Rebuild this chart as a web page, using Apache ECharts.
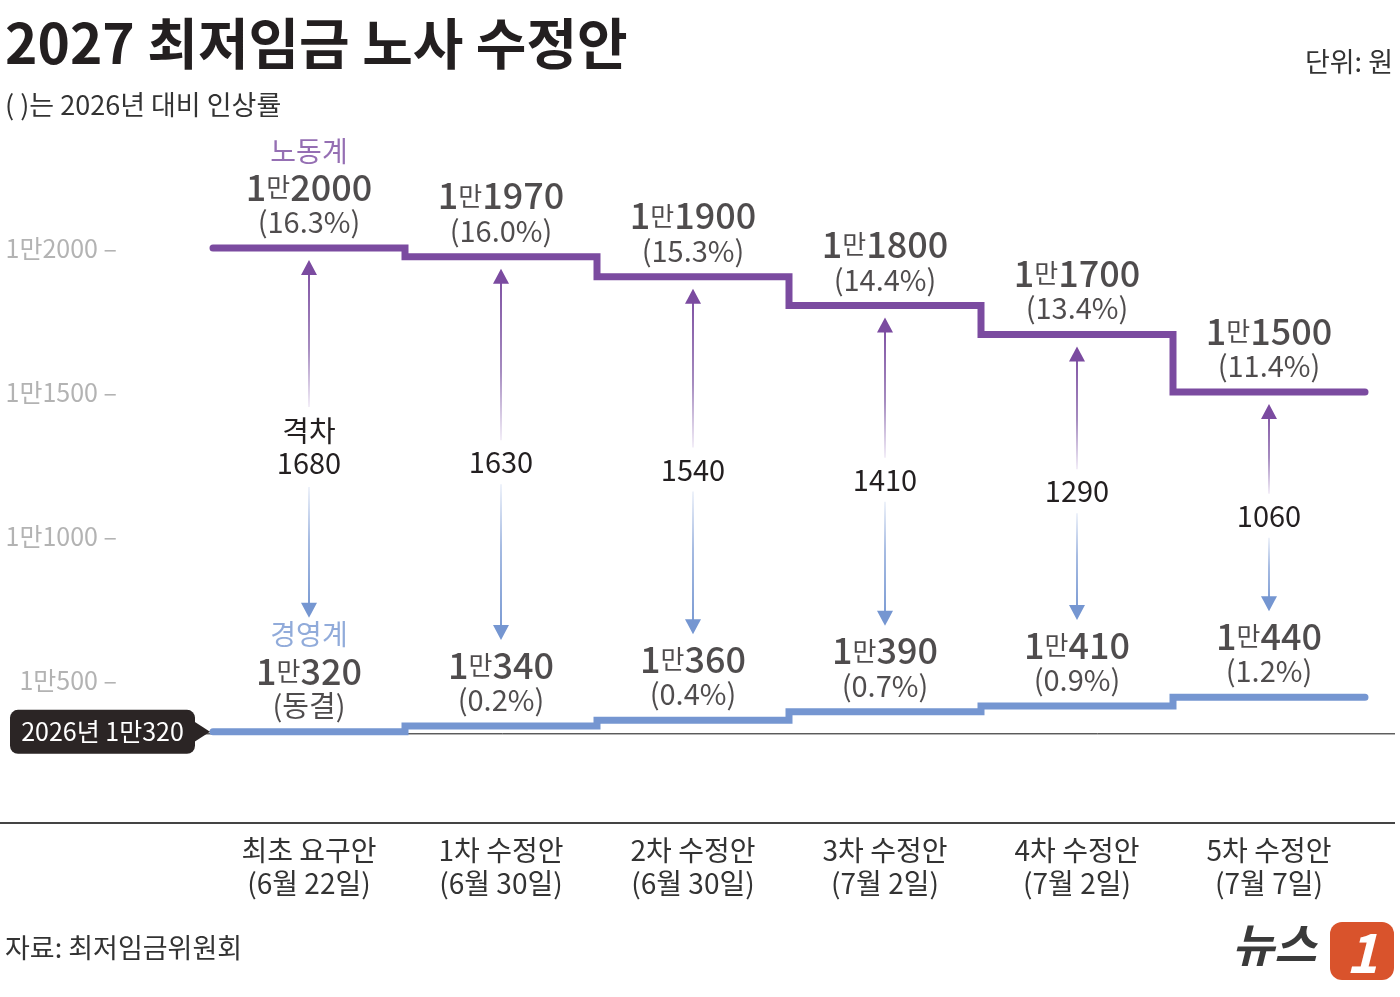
<!DOCTYPE html>
<html>
<head>
<meta charset="utf-8">
<script src="https://cdn.jsdelivr.net/npm/echarts@6/dist/echarts.min.js"></script>
<style>
    html, body { margin: 0; padding: 0; background: #fff; }
    #chart { width: 1400px; height: 997px; }
</style>
</head>
<body>
<div id="chart"></div>
<script>
// 2027 최저임금 노사 수정안 (단위: 원)
let categories = ['최초 요구안\n(6월 22일)', '1차 수정안\n(6월 30일)', '2차 수정안\n(6월 30일)',
    '3차 수정안\n(7월 2일)', '4차 수정안\n(7월 2일)', '5차 수정안\n(7월 7일)'];
let labor = [12000, 11970, 11900, 11800, 11700, 11500];
let laborRate = ['16.3%', '16.0%', '15.3%', '14.4%', '13.4%', '11.4%'];
let mgmt = [10320, 10340, 10360, 10390, 10410, 10440];
let mgmtRate = ['동결', '0.2%', '0.4%', '0.7%', '0.9%', '1.2%'];
let gaps = [1680, 1630, 1540, 1410, 1290, 1060];
let baseYear = 2026;
let baseWage = 10320;
let yTicks = [10500, 11000, 11500, 12000];

const PURPLE = '#7b4ba0';
const BLUE = '#7596d1';
const DARK = '#231f20';
const KR_FONT = "'Noto Sans CJK KR', sans-serif";

let man = function (v) {
    return '1만' + (v - 10000);
};

let stepData = function (arr) {
    let d = arr.map(function (v, i) { return [i, v]; });
    d.push([arr.length, arr[arr.length - 1]]);
    return d;
};

let valueRich = {
    t: { fontFamily: KR_FONT, fontSize: 28, lineHeight: 36, color: PURPLE },
    tb: { fontFamily: KR_FONT, fontSize: 28, lineHeight: 36, color: BLUE },
    n: { fontFamily: KR_FONT, fontSize: 36, fontWeight: 500, lineHeight: 36, color: DARK },
    m: { fontFamily: KR_FONT, fontSize: 26, lineHeight: 36, color: DARK },
    p: { fontFamily: KR_FONT, fontSize: 29, lineHeight: 34, color: DARK }
};

let valueLabel = function (v, rate, head, headStyle) {
    let s = '';
    if (head) s += '{' + headStyle + '|' + head + '}\n';
    s += '{n|1}{m|만}{n|' + (v - 10000) + '}\n';
    s += '{p|(' + rate + ')}';
    return s;
};

let chart = echarts.init(document.getElementById('chart'));
let option = {
    backgroundColor: '#fff',
    animation: false,
    grid: { left: 213, right: 35, top: 104, bottom: 173 },
    xAxis: {
        type: 'value', min: 0, max: 6, interval: 0.5,
        axisLine: { show: false }, axisTick: { show: false }, splitLine: { show: false },
        axisLabel: {
            margin: 10,
            fontFamily: KR_FONT, fontSize: 28, lineHeight: 33, color: '#333',
            formatter: function (v) {
                let i = Math.floor(v);
                return (v - i === 0.5 && categories[i]) ? categories[i] : '';
            }
        }
    },
    yAxis: {
        type: 'value', min: 10000, max: 12500, interval: 500,
        axisLine: { show: false }, axisTick: { show: false }, splitLine: { show: false },
        axisLabel: {
            margin: 96,
            fontFamily: KR_FONT, fontSize: 25, color: '#b3b3b3',
            formatter: function (v) {
                return yTicks.indexOf(v) >= 0 ? man(v) + ' –' : '';
            }
        }
    },
    series: [
        {
            name: '노동계', type: 'line', step: 'end', data: stepData(labor),
            symbol: 'none', z: 3,
            lineStyle: { color: PURPLE, width: 7, cap: 'round', join: 'miter' }
        },
        {
            name: '경영계', type: 'line', step: 'end', data: stepData(mgmt),
            symbol: 'none', z: 3,
            lineStyle: { color: BLUE, width: 7, cap: 'round', join: 'miter' }
        },
        {
            name: '노동계 라벨', type: 'scatter', symbolSize: 2, z: 5,
            itemStyle: { color: 'rgba(0,0,0,0)' },
            data: labor.map(function (v, i) { return [i + 0.5, v]; }),
            label: {
                show: true, position: 'top', distance: 8, align: 'center',
                formatter: function (p) {
                    let i = p.dataIndex;
                    return valueLabel(labor[i], laborRate[i], i === 0 ? '노동계' : '', 't');
                },
                rich: valueRich
            }
        },
        {
            name: '경영계 라벨', type: 'scatter', symbolSize: 2, z: 5,
            itemStyle: { color: 'rgba(0,0,0,0)' },
            data: mgmt.map(function (v, i) { return [i + 0.5, v]; }),
            label: {
                show: true, position: 'top', distance: 8, align: 'center',
                formatter: function (p) {
                    let i = p.dataIndex;
                    return valueLabel(mgmt[i], mgmtRate[i], i === 0 ? '경영계' : '', 'tb');
                },
                rich: valueRich
            }
        },
        {
            name: '격차', type: 'custom', z: 4,
            data: gaps.map(function (g, i) { return [i + 0.5, labor[i], mgmt[i], g]; }),
            renderItem: function (params, api) {
                let i = params.dataIndex;
                let top = api.coord([api.value(0), api.value(1)]);
                let bot = api.coord([api.value(0), api.value(2)]);
                let x = top[0];
                let y1 = top[1] + 12;
                let y2 = bot[1] - (i === 0 ? 114 : 86);
                let ym = (y1 + y2) / 2 + 8;
                let half = i === 0 ? 40 : 22;
                let txt = (i === 0 ? '격차\n' : '') + api.value(3);
                return {
                    type: 'group',
                    children: [
                        {
                            type: 'line',
                            shape: { x1: x, y1: y1 + 12, x2: x, y2: ym - half },
                            style: {
                                lineWidth: 2,
                                stroke: new echarts.graphic.LinearGradient(x, y1, x, ym - half, [
                                    { offset: 0, color: PURPLE }, { offset: 0.6, color: '#a68cc0' },
                                    { offset: 1, color: '#f3eef8' }], true)
                            }
                        },
                        {
                            type: 'line',
                            shape: { x1: x, y1: ym + half, x2: x, y2: y2 - 12 },
                            style: {
                                lineWidth: 2,
                                stroke: new echarts.graphic.LinearGradient(x, ym + half, x, y2, [
                                    { offset: 0, color: '#eef2fa' }, { offset: 0.4, color: '#a6bbe2' },
                                    { offset: 1, color: BLUE }], true)
                            }
                        },
                        {
                            type: 'polygon',
                            shape: { points: [[x, y1], [x - 8, y1 + 15], [x + 8, y1 + 15]] },
                            style: { fill: PURPLE }
                        },
                        {
                            type: 'polygon',
                            shape: { points: [[x, y2], [x - 8, y2 - 15], [x + 8, y2 - 15]] },
                            style: { fill: BLUE }
                        },
                        {
                            type: 'text',
                            style: {
                                text: txt, x: x, y: ym, align: 'center', verticalAlign: 'middle',
                                fontFamily: KR_FONT, fontSize: 29, lineHeight: 32, fill: DARK
                            }
                        }
                    ]
                };
            }
        }
    ]
};
chart.setOption(option, true);

// decorations placed from the axes
let basePt = chart.convertToPixel({ gridIndex: 0 }, [0, baseWage]);
let floorPt = chart.convertToPixel({ gridIndex: 0 }, [0, 10000]);
chart.setOption({
    graphic: [
        {
            type: 'text', left: 5, top: 16,
            style: { text: '2027 최저임금 노사 수정안', fontFamily: KR_FONT, fontWeight: 'bold', fontSize: 55, fill: DARK }
        },
        {
            type: 'text', left: 5, top: 91,
            style: { text: '( )는 2026년 대비 인상률', fontFamily: KR_FONT, fontSize: 27, fill: '#333' }
        },
        {
            type: 'text', right: 7, top: 48,
            style: { text: '단위: 원', fontFamily: KR_FONT, fontSize: 27, fill: '#333' }
        },
        {
            type: 'text', left: 5, top: 934,
            style: { text: '자료: 최저임금위원회', fontFamily: KR_FONT, fontSize: 27, fill: '#333' }
        },
        {
            type: 'line', z: 1,
            shape: { x1: basePt[0] - 8, y1: basePt[1] + 2, x2: 1395, y2: basePt[1] + 2 },
            style: { stroke: '#111', lineWidth: 1 }
        },
        {
            type: 'line', z: 1,
            shape: { x1: 0, y1: floorPt[1] - 1, x2: 1395, y2: floorPt[1] - 1 },
            style: { stroke: '#444', lineWidth: 2 }
        },
        {
            type: 'rect', z: 5,
            shape: { x: 10, y: basePt[1] - 22, width: basePt[0] - 28, height: 44, r: 8 },
            style: { fill: '#2b2525' }
        },
        {
            type: 'polygon', z: 5,
            shape: { points: [[basePt[0] - 20, basePt[1] - 11], [basePt[0] - 3, basePt[1]], [basePt[0] - 20, basePt[1] + 11]] },
            style: { fill: '#2b2525' }
        },
        {
            type: 'text', z: 6,
            style: {
                text: baseYear + '년 ' + man(baseWage), x: 10 + (basePt[0] - 28) / 2, y: basePt[1],
                align: 'center', verticalAlign: 'middle',
                fontFamily: KR_FONT, fontSize: 25, fill: '#fff'
            }
        },
        {
            type: 'text', left: 1232, top: 922,
            style: { text: '뉴스', fontFamily: KR_FONT, fontWeight: 'bold', fontStyle: 'italic', fontSize: 46, fill: '#3a3a3a' }
        },
        {
            type: 'rect', z: 5,
            shape: { x: 1330, y: 922, width: 64, height: 58, r: 12 },
            style: { fill: '#d9532c' }
        },
        {
            type: 'text', z: 6,
            style: {
                text: '1', x: 1362, y: 952, align: 'center', verticalAlign: 'middle',
                fontFamily: KR_FONT, fontWeight: 'bold', fontStyle: 'italic', fontSize: 54, fill: '#fff'
            }
        }
    ]
});
</script>
</body>
</html>
